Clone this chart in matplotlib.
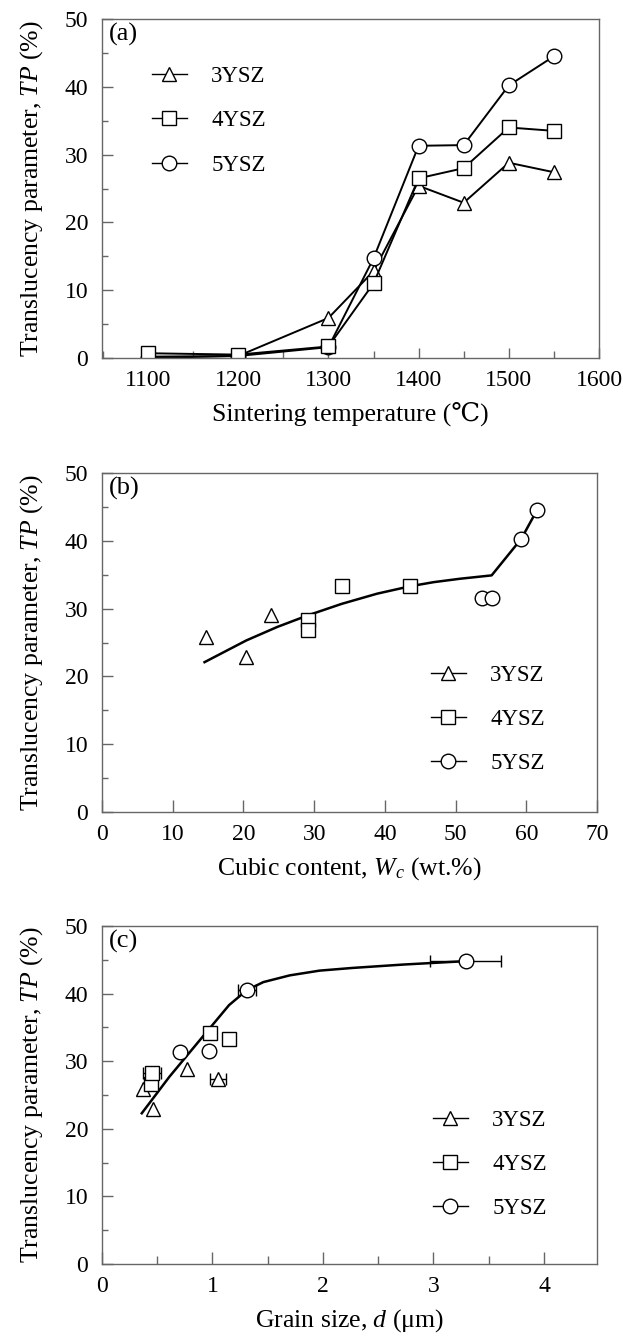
import matplotlib
matplotlib.use("Agg")
import matplotlib.pyplot as plt
from matplotlib.ticker import MultipleLocator

plt.rcParams['font.family'] = ['Liberation Serif', 'DejaVu Serif', 'Noto Sans CJK SC']
plt.rcParams['mathtext.fontset'] = 'custom'
plt.rcParams['mathtext.rm'] = 'Liberation Serif'
plt.rcParams['mathtext.it'] = 'Liberation Serif:italic'

# ---------------- data ----------------
series = ['3YSZ', '4YSZ', '5YSZ']
markers = ['^', 's', 'o']

# (a) TP vs sintering temperature
temp = [1100, 1200, 1300, 1350, 1400, 1450, 1500, 1550]
tp_3 = [0.2, 0.3, 5.9, 12.8, 25.4, 22.9, 28.8, 27.4]
tp_4 = [0.7, 0.5, 1.7, 11.0, 26.5, 28.0, 34.0, 33.5]
tp_5 = [0.0, 0.3, 1.6, 14.7, 31.3, 31.4, 40.2, 44.5]
tp_4_err = [0, 0, 0, 0, 0, 0, 0.6, 0]

# (b) TP vs cubic content
wc_3 = [14.7, 20.4, 23.9, 29.1]
tpb_3 = [25.8, 22.9, 29.0, 27.8]
wc_4 = [29.1, 29.1, 33.9, 43.6]
tpb_4 = [28.3, 26.8, 33.4, 33.3]
tpb_4_err = [0, 0, 0.6, 0]
wc_5 = [53.7, 55.2, 59.3, 61.5]
tpb_5 = [31.6, 31.6, 40.3, 44.5]
trend_b_x = [14.5, 20.4, 24.8, 29.1, 33.9, 38.9, 43.6, 46.9, 50.6, 55.1, 59.3, 61.5]
trend_b_y = [22.1, 25.3, 27.3, 29.0, 30.7, 32.2, 33.3, 33.9, 34.4, 34.9, 40.3, 44.5]

# (c) TP vs grain size
d_3 = [0.37, 0.46, 0.77, 1.05]
tpc_3 = [25.9, 23.0, 28.9, 27.3]
d_3_err = [0, 0, 0, 0.07]
d_4 = [0.44, 0.45, 0.98, 1.15]
tpc_4 = [26.6, 28.3, 34.1, 33.3]
d_4_err = [0, 0.08, 0, 0]
d_5 = [0.71, 0.97, 1.31, 3.29]
tpc_5 = [31.3, 31.5, 40.5, 44.8]
d_5_err = [0, 0, 0.08, 0.32]
trend_c_x = [0.36, 0.61, 0.91, 1.15, 1.31, 1.46, 1.70, 1.97, 2.27, 2.73, 3.29]
trend_c_y = [22.3, 27.7, 33.6, 38.3, 40.5, 41.7, 42.7, 43.4, 43.8, 44.3, 44.8]

# ---------------- style ----------------
FS_TICK = 17
FS_LABEL = 18.5
FS_LEG = 16.5
FS_TAG = 19
SPINE = '#666666'
MS = {'^': 10, 's': 9.5, 'o': 10.5}

W, H = 623, 1341
fig = plt.figure(figsize=(W / 100, H / 100), dpi=100)


def make_axes(left, top, right, bottom):
    return fig.add_axes([left / W, 1 - bottom / H, (right - left) / W, (bottom - top) / H])


def style(ax, xlabel, tag):
    for s in ax.spines.values():
        s.set_color(SPINE)
        s.set_linewidth(1.0)
    ax.tick_params(which='both', direction='in', top=False, right=False,
                   colors=SPINE, labelcolor='black', labelsize=FS_TICK, width=1.0)
    ax.tick_params(axis='x', which='major', length=7, pad=9)
    ax.tick_params(axis='x', which='minor', length=5)
    ax.tick_params(axis='y', which='major', length=8, pad=10)
    ax.tick_params(axis='y', which='minor', length=4)
    ax.set_ylim(0, 50)
    ax.yaxis.set_major_locator(MultipleLocator(10))
    ax.yaxis.set_minor_locator(MultipleLocator(5))
    ax.set_xlabel(xlabel, fontsize=FS_LABEL, labelpad=7)
    ax.set_ylabel(r'Translucency parameter, $\mathit{TP}$ (%)', fontsize=FS_LABEL, labelpad=14)
    ax.text(0.014, 0.988, tag, transform=ax.transAxes, ha='left', va='top', fontsize=FS_TAG)


def mk(m):
    return dict(marker=m, markersize=MS[m], markerfacecolor='white',
                markeredgecolor='black', markeredgewidth=1.0)


def legend(ax, anchor):
    handles = [plt.Line2D([], [], color='black', lw=1.0, **mk(m)) for m in markers]
    ax.legend(handles, series, loc='upper left', bbox_to_anchor=anchor, frameon=False,
              fontsize=FS_LEG, handlelength=1.55, handletextpad=1.05, labelspacing=1.02,
              borderpad=0, borderaxespad=0, numpoints=1)


# ---------------- (a) ----------------
ax = make_axes(102, 19, 599, 358)
ax.plot(temp, tp_3, color='black', lw=1.4, **mk('^'))
ax.errorbar(temp, tp_4, yerr=tp_4_err, color='black', lw=1.4, capsize=4, elinewidth=1.0, **mk('s'))
ax.plot(temp, tp_5, color='black', lw=1.4, **mk('o'))
ax.set_xlim(1049, 1600)
ax.xaxis.set_major_locator(MultipleLocator(100))
ax.xaxis.set_minor_locator(MultipleLocator(50))
style(ax, 'Sintering temperature (\u2103)', '(a)')
legend(ax, (0.1, 0.862))

# ---------------- (b) ----------------
ax = make_axes(102, 473, 597, 812)
ax.plot(trend_b_x, trend_b_y, color='black', lw=1.8, zorder=1)
ax.plot(wc_3, tpb_3, ls='none', zorder=3, **mk('^'))
ax.errorbar(wc_4, tpb_4, yerr=tpb_4_err, ls='none', ecolor='black', capsize=4,
            elinewidth=1.0, zorder=3, **mk('s'))
ax.plot(wc_5, tpb_5, ls='none', zorder=3, **mk('o'))
ax.set_xlim(0, 70)
ax.xaxis.set_major_locator(MultipleLocator(10))
style(ax, r'Cubic content, $\mathit{W_c}$ (wt.%)', '(b)')
ax.tick_params(axis='x', which='major', length=9)
legend(ax, (0.664, 0.435))

# ---------------- (c) ----------------
ax = make_axes(102, 926, 597, 1264)
ax.plot(trend_c_x, trend_c_y, color='black', lw=1.8, zorder=1)
ax.errorbar(d_3, tpc_3, xerr=d_3_err, ls='none', ecolor='black', capsize=4,
            elinewidth=1.0, zorder=3, **mk('^'))
ax.errorbar(d_4, tpc_4, xerr=d_4_err, ls='none', ecolor='black', capsize=4,
            elinewidth=1.0, zorder=3, **mk('s'))
ax.errorbar(d_5, tpc_5, xerr=d_5_err, ls='none', ecolor='black', capsize=4,
            elinewidth=1.0, zorder=3, **mk('o'))
ax.set_xlim(0, 4.48)
ax.xaxis.set_major_locator(MultipleLocator(1))
ax.xaxis.set_minor_locator(MultipleLocator(0.5))
style(ax, r'Grain size, $\mathit{d}$ (μm)', '(c)')
ax.tick_params(axis='x', which='major', length=9)
ax.tick_params(axis='x', which='minor', length=6)
legend(ax, (0.668, 0.457))

fig.savefig('out.png', dpi=100)
